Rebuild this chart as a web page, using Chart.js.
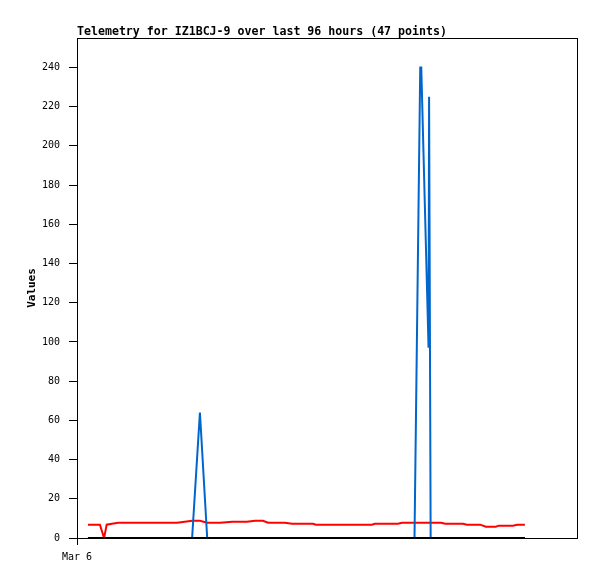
<!DOCTYPE html>
<html>
<head>
<meta charset="utf-8">
<title>Telemetry IZ1BCJ-9</title>
<script src="https://cdn.jsdelivr.net/npm/chart.js@4/dist/chart.umd.min.js"></script>
<style>
  html, body { margin: 0; padding: 0; background: #fff; }
  #chart { display: block; }
</style>
</head>
<body>
<canvas id="chart" width="597" height="579"></canvas>
<script>
const TITLE = 'Telemetry for IZ1BCJ-9 over last 96 hours (47 points)';
const Y_LABEL = 'Values';
const X_TICK_LABEL = 'Mar 6';

// hours since Mar 6 00:00
const hours = [
  2.1, 4.4, 5.2, 5.7, 6.7, 7.9, 10.4, 13.1, 15.9, 19.2,
  20.7, 22.1, 23.6, 25.0, 27.5, 29.8, 32.6, 34.2, 35.7, 36.7,
  39.9, 41.3, 45.3, 45.9, 49.5, 53.4, 56.6, 57.2, 61.6, 62.4,
  64.8, 65.9, 66.1, 67.5, 67.6, 67.9, 69.9, 70.7, 74.1, 74.9,
  77.4, 78.5, 80.4, 81.0, 83.7, 84.5, 86.0,
];
const redValues = [
  6.8, 6.8, 0, 6.8, 7.3, 7.8, 7.8, 7.8, 7.8, 7.8,
  8.3, 8.8, 8.8, 7.8, 7.8, 8.3, 8.3, 8.8, 8.8, 7.8,
  7.8, 7.3, 7.3, 6.8, 6.8, 6.8, 6.8, 7.3, 7.3, 7.8,
  7.8, 7.8, 7.8, 7.8, 7.8, 7.8, 7.8, 7.3, 7.3, 6.8,
  6.8, 5.8, 5.8, 6.3, 6.3, 6.8, 6.8,
];
const blueValues = [
  0, 0, 0, 0, 0, 0, 0, 0, 0, 0,
  0, 0, 64, 0, 0, 0, 0, 0, 0, 0,
  0, 0, 0, 0, 0, 0, 0, 0, 0, 0,
  0, 240, 240, 97, 225, 0, 0, 0, 0, 0,
  0, 0, 0, 0, 0, 0, 0,
];
const blackValues = hours.map(() => 0);

const FONT = "'DejaVu Sans Mono', monospace";

function toPoints(values) {
  return values.map((v, i) => ({x: hours[i], y: v}));
}

// title + frame round the plot area
const framePlugin = {
  id: 'frame',
  beforeDatasetsDraw(chart) {
    const {ctx, chartArea: a} = chart;
    ctx.save();
    ctx.strokeStyle = '#000';
    ctx.lineWidth = 1;
    ctx.strokeRect(a.left + 0.5, a.top + 0.5, a.right - a.left, a.bottom - a.top);
    ctx.restore();
  },
  afterDraw(chart) {
    const {ctx, chartArea: a} = chart;
    ctx.save();
    ctx.fillStyle = '#000';
    ctx.font = "bold 11.6px " + FONT;
    ctx.textBaseline = 'alphabetic';
    ctx.fillText(TITLE, a.left, 35);
    ctx.restore();
  },
};

const lineStyle = {
  borderWidth: 2,
  pointRadius: 0,
  tension: 0,
  fill: false,
};

new Chart(document.getElementById('chart'), {
  type: 'line',
  data: {
    datasets: [
      {...lineStyle, label: 'zero', data: toPoints(blackValues), borderColor: '#000', order: 0},
      {...lineStyle, label: 'blue', data: toPoints(blueValues), borderColor: '#0066cc', order: 1},
      {...lineStyle, label: 'red', data: toPoints(redValues), borderColor: '#ff0000', order: 2},
    ],
  },
  options: {
    responsive: false,
    animation: false,
    layout: {padding: {top: 38, right: 20, left: 0, bottom: 0}},
    plugins: {
      legend: {display: false},
      tooltip: {enabled: false},
      title: {display: false},
    },
    scales: {
      x: {
        type: 'linear',
        min: 0,
        max: 96,
        border: {display: false},
        grid: {drawOnChartArea: false, drawTicks: true, tickLength: 7, color: '#000'},
        ticks: {
          includeBounds: false,
          color: '#000',
          padding: 6,
          maxRotation: 0,
          font: {family: FONT, size: 10},
          callback: () => X_TICK_LABEL,
        },
        afterBuildTicks(scale) {
          scale.ticks = [{value: 0}];
        },
        afterFit(scale) {
          scale.height = 41;
        },
      },
      y: {
        min: 0,
        max: 255,
        border: {display: false},
        grid: {drawOnChartArea: false, drawTicks: true, tickLength: 8, color: '#000'},
        ticks: {
          stepSize: 20,
          includeBounds: false,
          color: '#000',
          padding: 9,
          font: {family: FONT, size: 10},
        },
        title: {
          display: true,
          text: Y_LABEL,
          color: '#000',
          font: {family: FONT, size: 11, weight: 'bold'},
          padding: {top: 26, bottom: 0},
        },
        afterFit(scale) {
          scale.width = 77;
        },
      },
    },
  },
  plugins: [framePlugin],
});
</script>
</body>
</html>
